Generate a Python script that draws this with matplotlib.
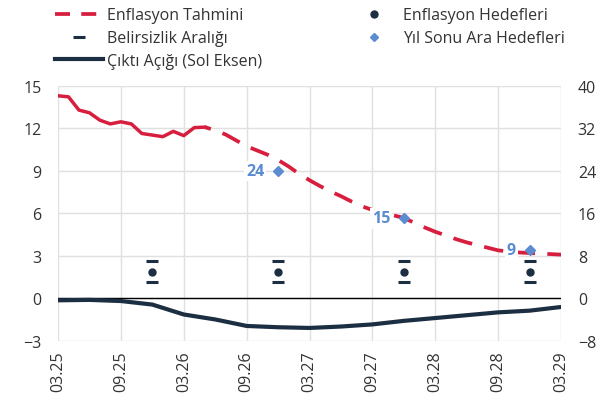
import matplotlib.pyplot as plt
from matplotlib.lines import Line2D

plt.rcParams['font.family'] = ['Open Sans', 'DejaVu Sans']

RED = '#d81e3f'
NAVY = '#1c2e42'
BLUE = '#5b8bd0'
TXT = '#333333'

# months counted from 03.25
tick_pos = [0, 6, 12, 18, 24, 30, 36, 42, 48]
tick_lbl = ['03.25', '09.25', '03.26', '09.26', '03.27', '09.27', '03.28', '09.28', '03.29']

# realised annual inflation (right axis)
inf_m = list(range(0, 15))
inf_v = [38.1, 37.9, 35.4, 34.9, 33.5, 32.8, 33.2, 32.8, 31.0, 30.7, 30.4, 31.4, 30.6, 32.1, 32.2]

# inflation forecast (right axis)
fc_m = list(range(14, 49))
fc_v = [32.2, 31.6, 30.8, 29.7, 28.6, 27.8, 27.0, 26.0, 24.8, 23.4, 22.2, 21.1, 20.1, 19.2,
        18.2, 17.3, 16.6, 16.1, 15.6, 15.1, 14.2, 13.3, 12.5, 11.8, 11.1, 10.5, 10.0, 9.5,
        9.0, 8.8, 8.6, 8.5, 8.4, 8.3, 8.2]

# output gap (left axis)
gap_m = [0, 3, 6, 9, 12, 15, 18, 21, 24, 27, 30, 33, 36, 39, 42, 45, 48]
gap_v = [-0.15, -0.12, -0.2, -0.45, -1.15, -1.5, -1.96, -2.05, -2.1, -2.0, -1.85, -1.6,
         -1.4, -1.2, -1.0, -0.88, -0.62]

# year-end targets (right axis)
tgt_m = [9, 21, 33, 45]
tgt_v = [5, 5, 5, 5]
tgt_lo = [3, 3, 3, 3]
tgt_hi = [7, 7, 7, 7]

# interim year-end targets
mid_m = [21, 33, 45]
mid_v = [24, 15, 9]
mid_lbl = ['24', '15', '9']

fig = plt.figure(figsize=(6.04, 4.10), dpi=100)
ax = fig.add_axes([0.096, 0.1666, 0.833, 0.622])
ax2 = ax.twinx()

ax.set_xlim(0, 48)
ax.set_ylim(-3, 15)
ax.set_yticks([-3, 0, 3, 6, 9, 12, 15])
ax2.set_ylim(-8, 40)
ax2.set_yticks([-8, 0, 8, 16, 24, 32, 40])
ax.set_xticks(tick_pos)
ax.set_xticklabels(tick_lbl, rotation=90)

ax.grid(True, color='#e0e0e0', lw=1)
ax.set_axisbelow(True)
for a in (ax, ax2):
    for s in a.spines.values():
        s.set_visible(False)
    a.tick_params(length=0, labelsize=11.5, labelcolor=TXT)
ax.tick_params(axis='y', pad=12)
ax.tick_params(axis='x', pad=7)
ax2.tick_params(axis='y', pad=12)

ax.axhline(0, color='black', lw=1, zorder=2)
ax.plot(gap_m, gap_v, color=NAVY, lw=3.0, zorder=3)

ax2.plot(inf_m, inf_v, color=RED, lw=2.5, zorder=3)
ax2.plot(fc_m, fc_v, color=RED, lw=2.7, linestyle=(3.5, (5.2, 3.3)), zorder=3)

ax2.plot(tgt_m, tgt_v, 'o', color=NAVY, ms=5, zorder=4)
ax2.plot(tgt_m, tgt_lo, '_', color=NAVY, ms=8, mew=2.2, zorder=4)
ax2.plot(tgt_m, tgt_hi, '_', color=NAVY, ms=8, mew=2.2, zorder=4)
ax2.plot(mid_m, mid_v, 'D', color=BLUE, ms=5.5, zorder=6)
for m, v, t in zip(mid_m, mid_v, mid_lbl):
    ax2.annotate(t, (m, v), xytext=(-10, 0), textcoords='offset points',
                 ha='right', va='center', fontsize=11.5, fontweight='bold', color=BLUE,
                 bbox=dict(facecolor='white', edgecolor='none', pad=1.5), zorder=5)

h1 = [Line2D([], [], color=RED, lw=2.7, linestyle=(0, (4.0, 3.0))),
      Line2D([], [], color=NAVY, marker='_', ms=8, mew=2.2, linestyle='none'),
      Line2D([], [], color=NAVY, lw=3.0)]
l1 = ['Enflasyon Tahmini', 'Belirsizlik Aralığı', 'Çıktı Açığı (Sol Eksen)']
h2 = [Line2D([], [], color=NAVY, marker='o', ms=5, linestyle='none'),
      Line2D([], [], color=BLUE, marker='D', ms=4.5, linestyle='none')]
l2 = ['Enflasyon Hedefleri', 'Yıl Sonu Ara Hedefleri']

leg1 = fig.legend(h1, l1, loc='upper left', bbox_to_anchor=(0.08, 0.995), frameon=False,
                  fontsize=11.5, handlelength=3.0, handletextpad=0.25, labelspacing=0.42,
                  labelcolor=TXT, borderaxespad=0)
leg2 = fig.legend(h2, l2, loc='upper left', bbox_to_anchor=(0.588, 0.995), frameon=False,
                  fontsize=11.5, handlelength=1.6, handletextpad=1.0, labelspacing=0.42,
                  labelcolor=TXT, borderaxespad=0)

fig.savefig('out.png', dpi=100)
